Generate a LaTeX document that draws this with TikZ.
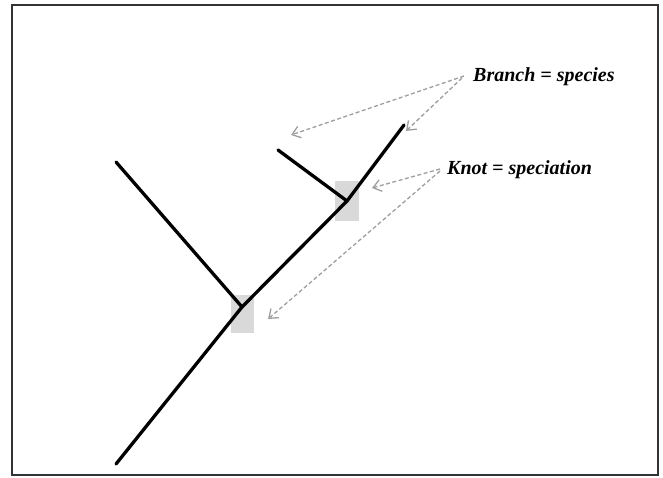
\documentclass[tikz,border=0pt]{standalone}
\usepackage{fontspec}
\setmainfont{Liberation Serif}
\usetikzlibrary{arrows.meta}
\begin{document}
\begin{tikzpicture}[x=1pt,y=-1pt,
  branchline/.style={line width=3.3pt,black,line cap=round},
  knotbox/.style={fill=black!15,draw=none},
  pointer/.style={dash pattern=on 4pt off 2.5pt,black!38,line width=1.3pt,-{Straight Barb[length=8pt,width=12pt,line width=1.3pt]}},
  lbl/.style={font=\fontsize{20}{22}\selectfont\bfseries\itshape,anchor=west,inner sep=1pt}]
\useasboundingbox (0,0) rectangle (663,478);
\draw[line width=1.3pt,black!80] (12,5) rectangle (658,475);
\fill[knotbox] (231,295) rectangle (254,333);
\fill[knotbox] (335,181) rectangle (359,221);
\coordinate (root) at (116,464);
\coordinate (k1) at (242,307);
\coordinate (k2) at (347,201);
\coordinate (t1) at (116,162);
\coordinate (t2) at (278,150);
\coordinate (t3) at (404,125);
\draw[branchline] (root) -- (k1) -- (k2) -- (t3);
\draw[branchline] (k1) -- (t1);
\draw[branchline] (k2) -- (t2);
\node[lbl] (bl) at (472,77) {Branch = species};
\node[lbl] (kl) at (446,170) {Knot = speciation};
\coordinate (a1) at (291,135);
\coordinate (a2) at (406,131);
\coordinate (a3) at (372,188);
\coordinate (a4) at (268,319);
\draw[pointer] (bl.west) ++(-8,-1) -- (a1);
\draw[pointer] (bl.west) ++(-10,1) -- (a2);
\draw[pointer] (kl.west) ++(-6,-1) -- (a3);
\draw[pointer] (kl.west) ++(-6,1) -- (a4);
\end{tikzpicture}
\end{document}
